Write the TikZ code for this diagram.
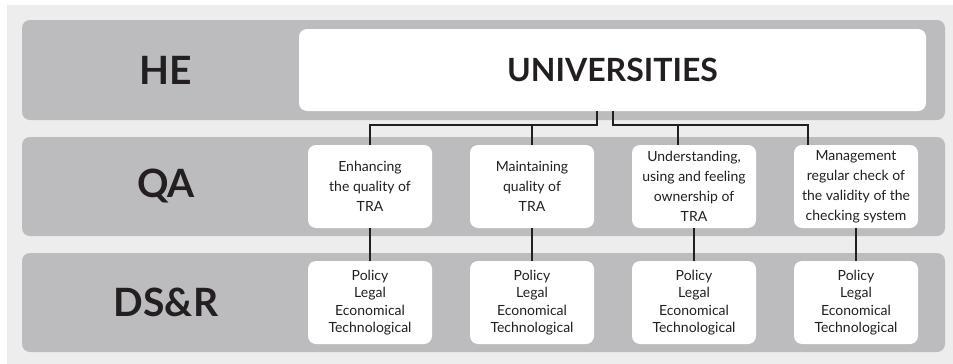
\documentclass[tikz,border=0pt]{standalone}
\usepackage{fontspec}
\setmainfont{Lato}

\definecolor{paper}{HTML}{EDEDED}
\definecolor{bandgray}{HTML}{BCBCBF}
\definecolor{ink}{HTML}{231F20}

\tikzset{
  band/.style={rectangle, rounded corners=8pt, fill=bandgray, minimum width=923pt, inner sep=0pt},
  rowlabel/.style={font=\fontsize{39}{44}\selectfont\bfseries, text=ink},
  qabox/.style={rectangle, rounded corners=8pt, fill=white, minimum width=124pt, minimum height=83pt,
    inner sep=0pt, align=center, text=ink, font=\fontsize{14}{20}\selectfont},
  dsbox/.style={qabox, font=\fontsize{14}{17.5}\selectfont},
  link/.style={draw=ink, line width=1.2pt}
}

\begin{document}
\begin{tikzpicture}[x=1pt, y=-1pt]
    \useasboundingbox (0,0) rectangle (953,364);
    \fill[paper] (7,5) rectangle (953,364);

    \node[band, minimum height=100pt] (heband) at (483.5, 70) {};
    \node[band, minimum height=99pt] (qaband) at (483.5, 186.5) {};
    \node[band, minimum height=99pt] (dsband) at (483.5, 302.5) {};

    \node[rowlabel] (he) at (166, 70) {HE};
    \node[rowlabel] (qa) at (166, 186.5) {QA};
    \node[rowlabel] (ds) at (166, 302.5) {DS\&R};

    \node[rectangle, rounded corners=8pt, fill=white, minimum width=627pt, minimum height=82pt, inner sep=0pt,
      font=\fontsize{32}{36}\selectfont\bfseries, text=ink] (uni) at (612.5, 70) {UNIVERSITIES};

    \node[qabox] (qa1) at (370, 186.5) {Enhancing\\the quality of\\TRA};
    \node[qabox] (qa2) at (532, 186.5) {Maintaining\\quality of\\TRA};
    \node[qabox] (qa3) at (694, 186.5) {Understanding,\\using and feeling\\ownership of\\TRA};
    \node[qabox] (qa4) at (856, 186.5) {Management\\regular check of\\the validity of the\\checking system};

    \node[dsbox] (ds1) at (370, 302.5) {Policy\\Legal\\Economical\\Technological};
    \node[dsbox] (ds2) at (532, 302.5) {Policy\\Legal\\Economical\\Technological};
    \node[dsbox] (ds3) at (694, 302.5) {Policy\\Legal\\Economical\\Technological};
    \node[dsbox] (ds4) at (856, 302.5) {Policy\\Legal\\Economical\\Technological};

    % connectors
    \coordinate (busl) at (597, 125);
    \coordinate (busr) at (613, 125);
    \coordinate (drop3) at (678, 125);
    \coordinate (drop4) at (808, 125);

    \draw[link] (uni.south -| busl) -- (busl) -- (busl -| qa1) -- (qa1.north);
    \draw[link] (busl -| qa2) -- (qa2.north);
    \draw[link] (uni.south -| busr) -- (busr) -- (drop4) -- (drop4 |- qa4.north);
    \draw[link] (drop3) -- (drop3 |- qa3.north);

    \draw[link] (qa1) -- (ds1);
    \draw[link] (qa2) -- (ds2);
    \draw[link] (qa3) -- (ds3);
    \draw[link] (qa4) -- (ds4);
\end{tikzpicture}
\end{document}
